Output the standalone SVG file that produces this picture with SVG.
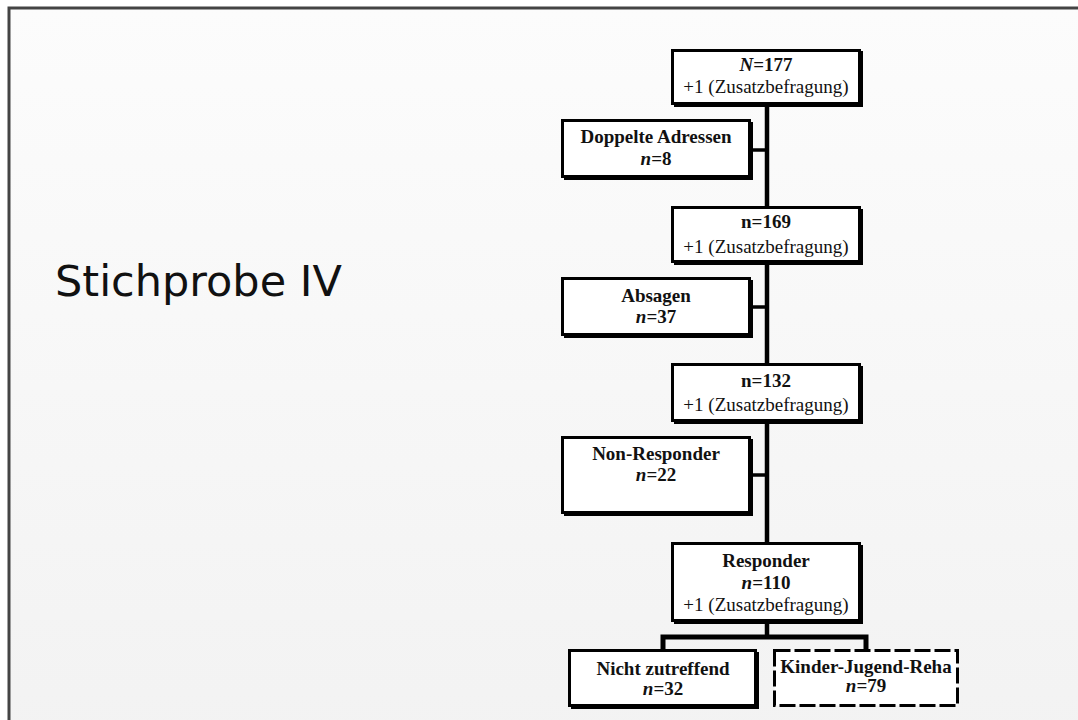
<svg xmlns="http://www.w3.org/2000/svg" width="1078" height="720" viewBox="0 0 1078 720">
<defs>
<linearGradient id="bg" x1="0" y1="0" x2="0" y2="1">
<stop offset="0" stop-color="#fcfcfc"/>
<stop offset="1" stop-color="#f2f2f2"/>
</linearGradient>
</defs>
<style>
.box{fill:#fff;stroke:#000;stroke-width:3}
.sh{fill:#000}
.dash{fill:#fff;stroke:#000;stroke-width:3;stroke-dasharray:16 4}
.t{font-family:"Liberation Serif","Times New Roman",serif;font-size:19px;text-anchor:middle;fill:#111}
.b{font-weight:bold}
.i{font-style:italic}
.ln{stroke:#000;fill:none}
</style>
<rect x="0" y="0" width="1078" height="720" fill="#fff"/>
<rect x="9" y="8" width="1100" height="760" fill="url(#bg)" stroke="#444" stroke-width="3"/>
<text x="55" y="296" font-family="'DejaVu Sans',Verdana,sans-serif" font-size="43" fill="#111">Stichprobe IV</text>

<g id="connectors">
<line class="ln" x1="767" y1="104" x2="767" y2="543" stroke-width="4.5"/>
<line class="ln" x1="751" y1="150" x2="767" y2="150" stroke-width="3.5"/>
<line class="ln" x1="751" y1="307" x2="767" y2="307" stroke-width="3.5"/>
<line class="ln" x1="751" y1="475" x2="767" y2="475" stroke-width="3.5"/>
<line class="ln" x1="767" y1="622" x2="767" y2="637" stroke-width="4.5"/>
<path class="ln" d="M663 650 V637 H866 V650" stroke-width="5"/>
</g>

<g id="n177">
<rect class="sh" x="674" y="51" width="189" height="56"/>
<rect class="box" x="672.5" y="50.5" width="187" height="53"/>
<text class="t b" x="766" y="71"><tspan class="i">N</tspan>=177</text>
<text class="t" x="766" y="93">+1 (Zusatzbefragung)</text>
</g>

<g id="doppelte">
<rect class="sh" x="564" y="122" width="189" height="58"/>
<rect class="box" x="562.5" y="120.5" width="187" height="56"/>
<text class="t b" x="656" y="143">Doppelte Adressen</text>
<text class="t b" x="656" y="165"><tspan class="i">n</tspan>=8</text>
</g>

<g id="n169">
<rect class="sh" x="674" y="209" width="189" height="56"/>
<rect class="box" x="672.5" y="207.5" width="187" height="54"/>
<text class="t b" x="766" y="228">n=169</text>
<text class="t" x="766" y="253">+1 (Zusatzbefragung)</text>
</g>

<g id="absagen">
<rect class="sh" x="564" y="280" width="189" height="58"/>
<rect class="box" x="562.5" y="278.5" width="187" height="56"/>
<text class="t b" x="656" y="302">Absagen</text>
<text class="t b" x="656" y="323"><tspan class="i">n</tspan>=37</text>
</g>

<g id="n132">
<rect class="sh" x="674" y="366" width="189" height="58"/>
<rect class="box" x="672.5" y="364.5" width="187" height="56"/>
<text class="t b" x="766" y="387">n=132</text>
<text class="t" x="766" y="411">+1 (Zusatzbefragung)</text>
</g>

<g id="nonresponder">
<rect class="sh" x="564" y="439" width="189" height="77"/>
<rect class="box" x="562.5" y="437.5" width="187" height="75"/>
<text class="t b" x="656" y="460">Non-Responder</text>
<text class="t b" x="656" y="481"><tspan class="i">n</tspan>=22</text>
</g>

<g id="responder">
<rect class="sh" x="674" y="545" width="189" height="79"/>
<rect class="box" x="672.5" y="543.5" width="187" height="77"/>
<text class="t b" x="766" y="567">Responder</text>
<text class="t b" x="766" y="589"><tspan class="i">n</tspan>=110</text>
<text class="t" x="766" y="611">+1 (Zusatzbefragung)</text>
</g>

<g id="nichtzutreffend">
<rect class="sh" x="571" y="652" width="188" height="57"/>
<rect class="box" x="569.5" y="650.5" width="186" height="55"/>
<text class="t b" x="663" y="675">Nicht zutreffend</text>
<text class="t b" x="663" y="695"><tspan class="i">n</tspan>=32</text>
</g>

<g id="kjr">
<rect class="dash" x="774.5" y="650.5" width="183" height="55"/>
<text class="t b" x="866" y="673">Kinder-Jugend-Reha</text>
<text class="t b" x="866" y="692"><tspan class="i">n</tspan>=79</text>
</g>
</svg>
